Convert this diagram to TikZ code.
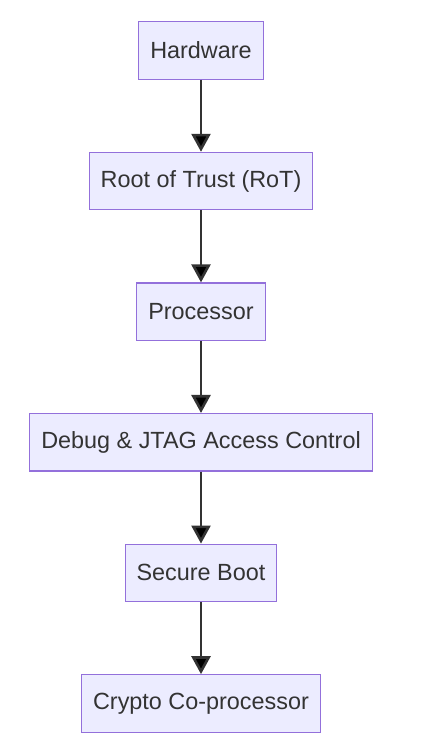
\documentclass[tikz,border=0pt]{standalone}
\usepackage{fontspec}
\setmainfont{Liberation Sans}
\usetikzlibrary{positioning,arrows.meta}
\definecolor{boxfill}{HTML}{ECECFF}
\definecolor{boxline}{HTML}{9370DB}
\definecolor{ink}{HTML}{333333}
\begin{document}
\begin{tikzpicture}[x=1pt,y=1pt,node distance=130.6pt,on grid,
   block/.style={draw=boxline,fill=boxfill,line width=1.2pt,text=ink,
     minimum height=57.5pt,inner xsep=11.5pt,
     font=\fontsize{23.4}{28}\selectfont},
   flow/.style={draw=ink,line width=2.6pt,-{Triangle[length=18pt,width=19pt]}}]
   \useasboundingbox (0,0) rectangle (430,-742);
   \node[block] (hw) at (201,-50.5) {Hardware};
   \node[block] (rot) [below=of hw] {Root of Trust (RoT)};
   \node[block] (cpu) [below=of rot] {Processor};
   \node[block] (jtag) [below=of cpu] {Debug \& JTAG Access Control};
   \node[block] (boot) [below=of jtag] {Secure Boot};
   \node[block] (crypto) [below=of boot] {Crypto Co-processor};
    \path[flow]
    (hw) edge (rot)
    (rot) edge (cpu)
    (cpu) edge (jtag)
    (jtag) edge (boot)
    (boot) edge (crypto);
\end{tikzpicture}
\end{document}
